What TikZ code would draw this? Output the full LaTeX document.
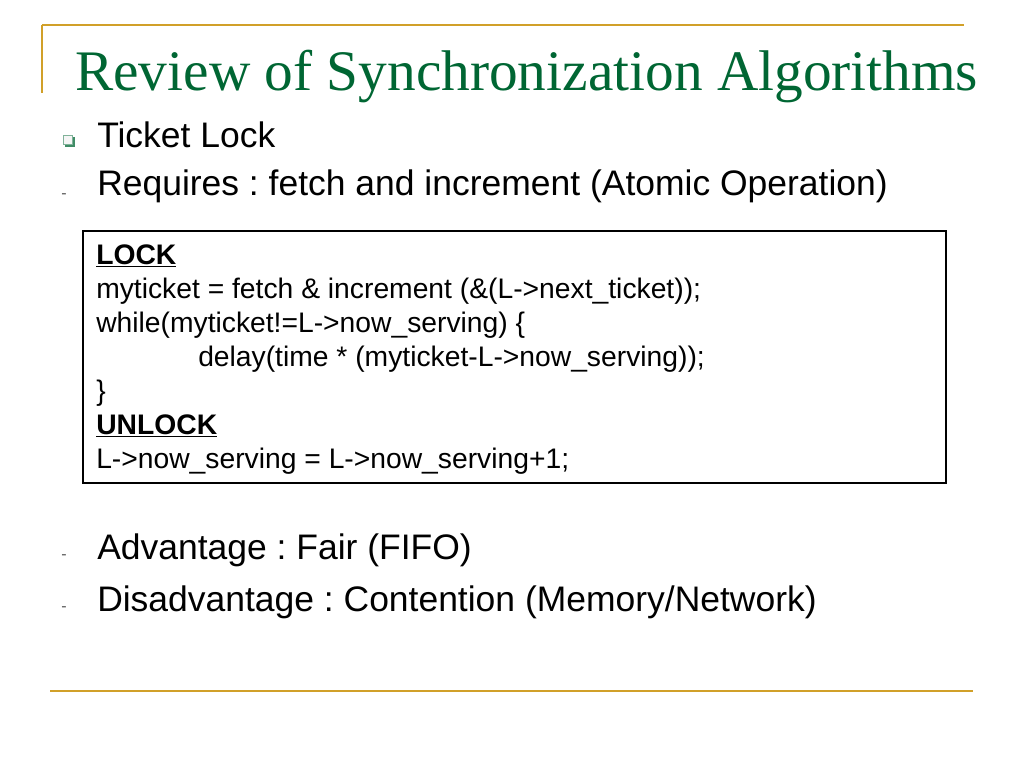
\documentclass[tikz,border=0pt]{standalone}
\usepackage{fontspec}
\setmainfont{Liberation Sans}
\newfontfamily\titlefont{Liberation Serif}
\frenchspacing
\definecolor{slidegold}{RGB}{209,160,41}
\definecolor{slidegreen}{RGB}{0,102,51}
\tikzset{
  txt/.style={anchor=base west,inner sep=0pt},
  bigtxt/.style={txt,font=\fontsize{26.6}{32}\selectfont},
  lowtxt/.style={txt,font=\fontsize{26.6}{32}\selectfont},
  codetxt/.style={txt,font=\fontsize{21.2}{25}\selectfont},
  dashbul/.style={anchor=center,inner sep=0pt,text=black!65,font=\fontsize{12}{12}\selectfont},
  goldline/.style={color=slidegold,line width=1.5pt}
}
\begin{document}
\begin{tikzpicture}[x=0.75pt,y=0.75pt,yscale=-1,xscale=1]
\useasboundingbox (0,0) rectangle (1024,768);

%Straight Lines
\draw [goldline] (42,25) -- (964,25) ;
\draw [goldline] (42,25) -- (42,93) ;
\draw [goldline] (50,691) -- (973,691) ;

% Text Node
\node [txt,text=slidegreen,font=\titlefont\fontsize{43}{50}\selectfont] (title) at (75,90) {Review of Synchronization Algorithms};

%Shape: Square bullet
\fill [color=slidegreen!75] (65,137) rectangle (75,147) ;
\draw [color=slidegreen!50,fill=black!4,line width=0.5pt] (63.5,135.5) rectangle (72.5,144.5) ;

% Text Node
\node [bigtxt] (ticket) at (97,147) {Ticket Lock};
\node [dashbul] (d1) at (64,196) {-};
\node [bigtxt] (requires) at (97,195) {Requires : fetch and increment (Atomic Operation)};

%Shape: Rectangle
\draw [line width=1.6pt] (83,231) rectangle (946,483) ;

% Text Node
\node [codetxt] (lock) at (96,264) {\textbf{\underline{LOCK}}};
\node [codetxt] (c1) at (96,298) {myticket = fetch \& increment (\&(L->next\_ticket));};
\node [codetxt] (c2) at (96,332) {while(myticket!=L->now\_serving) \{};
\node [codetxt] (c3) at (198,366) {delay(time * (myticket-L->now\_serving));};
\node [codetxt] (c4) at (96,400) {\}};
\node [codetxt] (unlock) at (96,434) {\textbf{\underline{UNLOCK}}};
\node [codetxt] (c5) at (96,468) {L->now\_serving = L->now\_serving+1;};

% Text Node
\node [dashbul] (d2) at (64,557) {-};
\node [lowtxt] (adv) at (97,559) {Advantage : Fair (FIFO)};
\node [dashbul] (d3) at (64,609) {-};
\node [lowtxt] (disadv) at (97,611) {Disadvantage : Contention (Memory/Network)};

\end{tikzpicture}
\end{document}
